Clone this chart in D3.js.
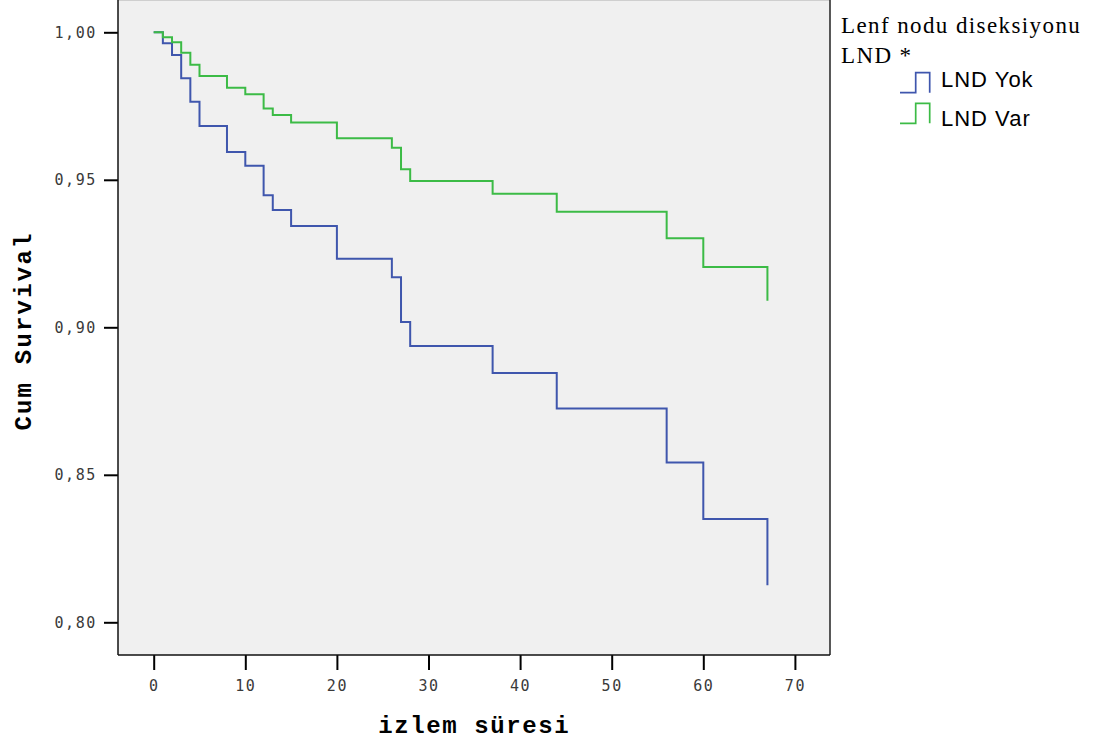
<!DOCTYPE html>
<html>
<head>
<meta charset="utf-8">
<script src="https://cdn.jsdelivr.net/npm/d3@7"></script>
<style>
  html, body { margin: 0; padding: 0; background: #ffffff; }
  svg { display: block; }
</style>
</head>
<body>
<svg id="chart" width="1115" height="743"></svg>
<script>
// ---- data ----
const times = [0, 1, 2, 3, 4, 5, 8, 10, 12, 13, 15, 20, 26, 27, 28, 37, 44, 56, 60, 67];
const survYok = [1.0, 0.9963, 0.9923, 0.9844, 0.9765, 0.9682, 0.9594, 0.9548, 0.9448, 0.9398,
                 0.9343, 0.9232, 0.9170, 0.9018, 0.8937, 0.8845, 0.8725, 0.8542, 0.8350, 0.8126];
const survVar = [1.0, 0.9983, 0.9966, 0.9931, 0.9890, 0.9852, 0.9812, 0.9790, 0.9742, 0.9720,
                 0.9694, 0.9641, 0.9609, 0.9536, 0.9496, 0.9453, 0.9392, 0.9302, 0.9204, 0.9090];
const seriesNames = ["LND Yok", "LND Var"];
const xTicks = [0, 10, 20, 30, 40, 50, 60, 70];
const yTicks = [0.80, 0.85, 0.90, 0.95, 1.00];
const xTitle = "izlem süresi";
const yTitle = "Cum Survival";
const legendTitle = ["Lenf nodu diseksiyonu", "LND *"];

// ---- layout / style ----
const colors = ["#3f56ad", "#3cbb46"];
const plot = { left: 118, right: 830, top: 0, bottom: 655 };
const svg = d3.select("#chart");

const x = d3.scaleLinear().domain([0, 70]).range([153.7, 794.9]);
const y = d3.scaleLinear().domain([0.80, 1.00]).range([622.3, 32.3]);

// plot background
svg.append("rect")
  .attr("x", plot.left).attr("y", plot.top)
  .attr("width", plot.right - plot.left).attr("height", plot.bottom - plot.top)
  .attr("fill", "#f0f0f0");
svg.append("line")
  .attr("x1", plot.left).attr("x2", plot.right).attr("y1", 0.5).attr("y2", 0.5)
  .attr("stroke", "#cfcfcf").attr("stroke-width", 1);
svg.append("line")
  .attr("x1", plot.right).attr("x2", plot.right).attr("y1", 0).attr("y2", plot.bottom)
  .attr("stroke", "#222").attr("stroke-width", 1.5);

// survival curves
const line = d3.line()
  .x(d => x(d[0]))
  .y(d => y(d[1]))
  .curve(d3.curveStepAfter);

[survYok, survVar].forEach((s, i) => {
  svg.append("path")
    .datum(times.map((t, k) => [t, s[k]]))
    .attr("fill", "none")
    .attr("stroke", colors[i])
    .attr("stroke-width", 2)
    .attr("d", line);
});

// axes
const fmt = d => d.toFixed(2).replace(".", ",");
const yAxis = svg.append("g")
  .attr("transform", `translate(${plot.left},0)`)
  .call(d3.axisLeft(y).tickValues(yTicks).tickFormat(fmt).tickSize(14).tickPadding(7));
const xAxis = svg.append("g")
  .attr("transform", `translate(0,${plot.bottom})`)
  .call(d3.axisBottom(x).tickValues(xTicks).tickFormat(d3.format("d")).tickSize(15).tickPadding(10));

[yAxis, xAxis].forEach(g => {
  g.select(".domain").remove();
  g.selectAll(".tick line").attr("stroke", "#000").attr("stroke-width", 2);
  g.selectAll(".tick text")
    .attr("fill", "#3a3a3a")
    .style("font-family", "'DejaVu Sans Mono', monospace")
    .style("font-size", "15px")
    .style("letter-spacing", "1.6px");
});

svg.append("line")
  .attr("x1", plot.left).attr("x2", plot.left).attr("y1", 0).attr("y2", plot.bottom)
  .attr("stroke", "#111").attr("stroke-width", 1.5);
svg.append("line")
  .attr("x1", plot.left).attr("x2", plot.right).attr("y1", plot.bottom).attr("y2", plot.bottom)
  .attr("stroke", "#111").attr("stroke-width", 1.5);

// axis titles
svg.append("text")
  .attr("x", (x(0) + x(70)) / 2).attr("y", 733)
  .attr("text-anchor", "middle")
  .style("font-family", "'Liberation Mono', 'Courier New', monospace")
  .style("font-weight", "bold")
  .style("font-size", "24px")
  .style("letter-spacing", "1.6px")
  .attr("fill", "#000")
  .text(xTitle);

svg.append("text")
  .attr("transform", `translate(31,331) rotate(-90)`)
  .attr("text-anchor", "middle")
  .style("font-family", "'Liberation Mono', 'Courier New', monospace")
  .style("font-weight", "bold")
  .style("font-size", "24px")
  .style("letter-spacing", "2.2px")
  .attr("fill", "#000")
  .text(yTitle);

// legend
const lg = svg.append("g");
legendTitle.forEach((t, i) => {
  lg.append("text")
    .attr("x", 841).attr("y", 32.7 + i * 30.5)
    .style("font-family", "'Liberation Serif', 'Times New Roman', serif")
    .style("font-size", "23px")
    .style("letter-spacing", "1.4px")
    .attr("fill", "#000")
    .text(t);
});
seriesNames.forEach((name, i) => {
  const by = 92.7 + i * 30.6;
  lg.append("path")
    .attr("d", `M900,${by} H915.7 V${by - 20} H929.7 V${by}`)
    .attr("fill", "none")
    .attr("stroke", colors[i])
    .attr("stroke-width", 1.7);
  lg.append("text")
    .attr("x", 941).attr("y", 86.7 + i * 39.5)
    .style("font-family", "'Liberation Sans', Arial, sans-serif")
    .style("font-size", "22px")
    .style("letter-spacing", "1px")
    .attr("fill", "#000")
    .text(name);
});
</script>
</body>
</html>
